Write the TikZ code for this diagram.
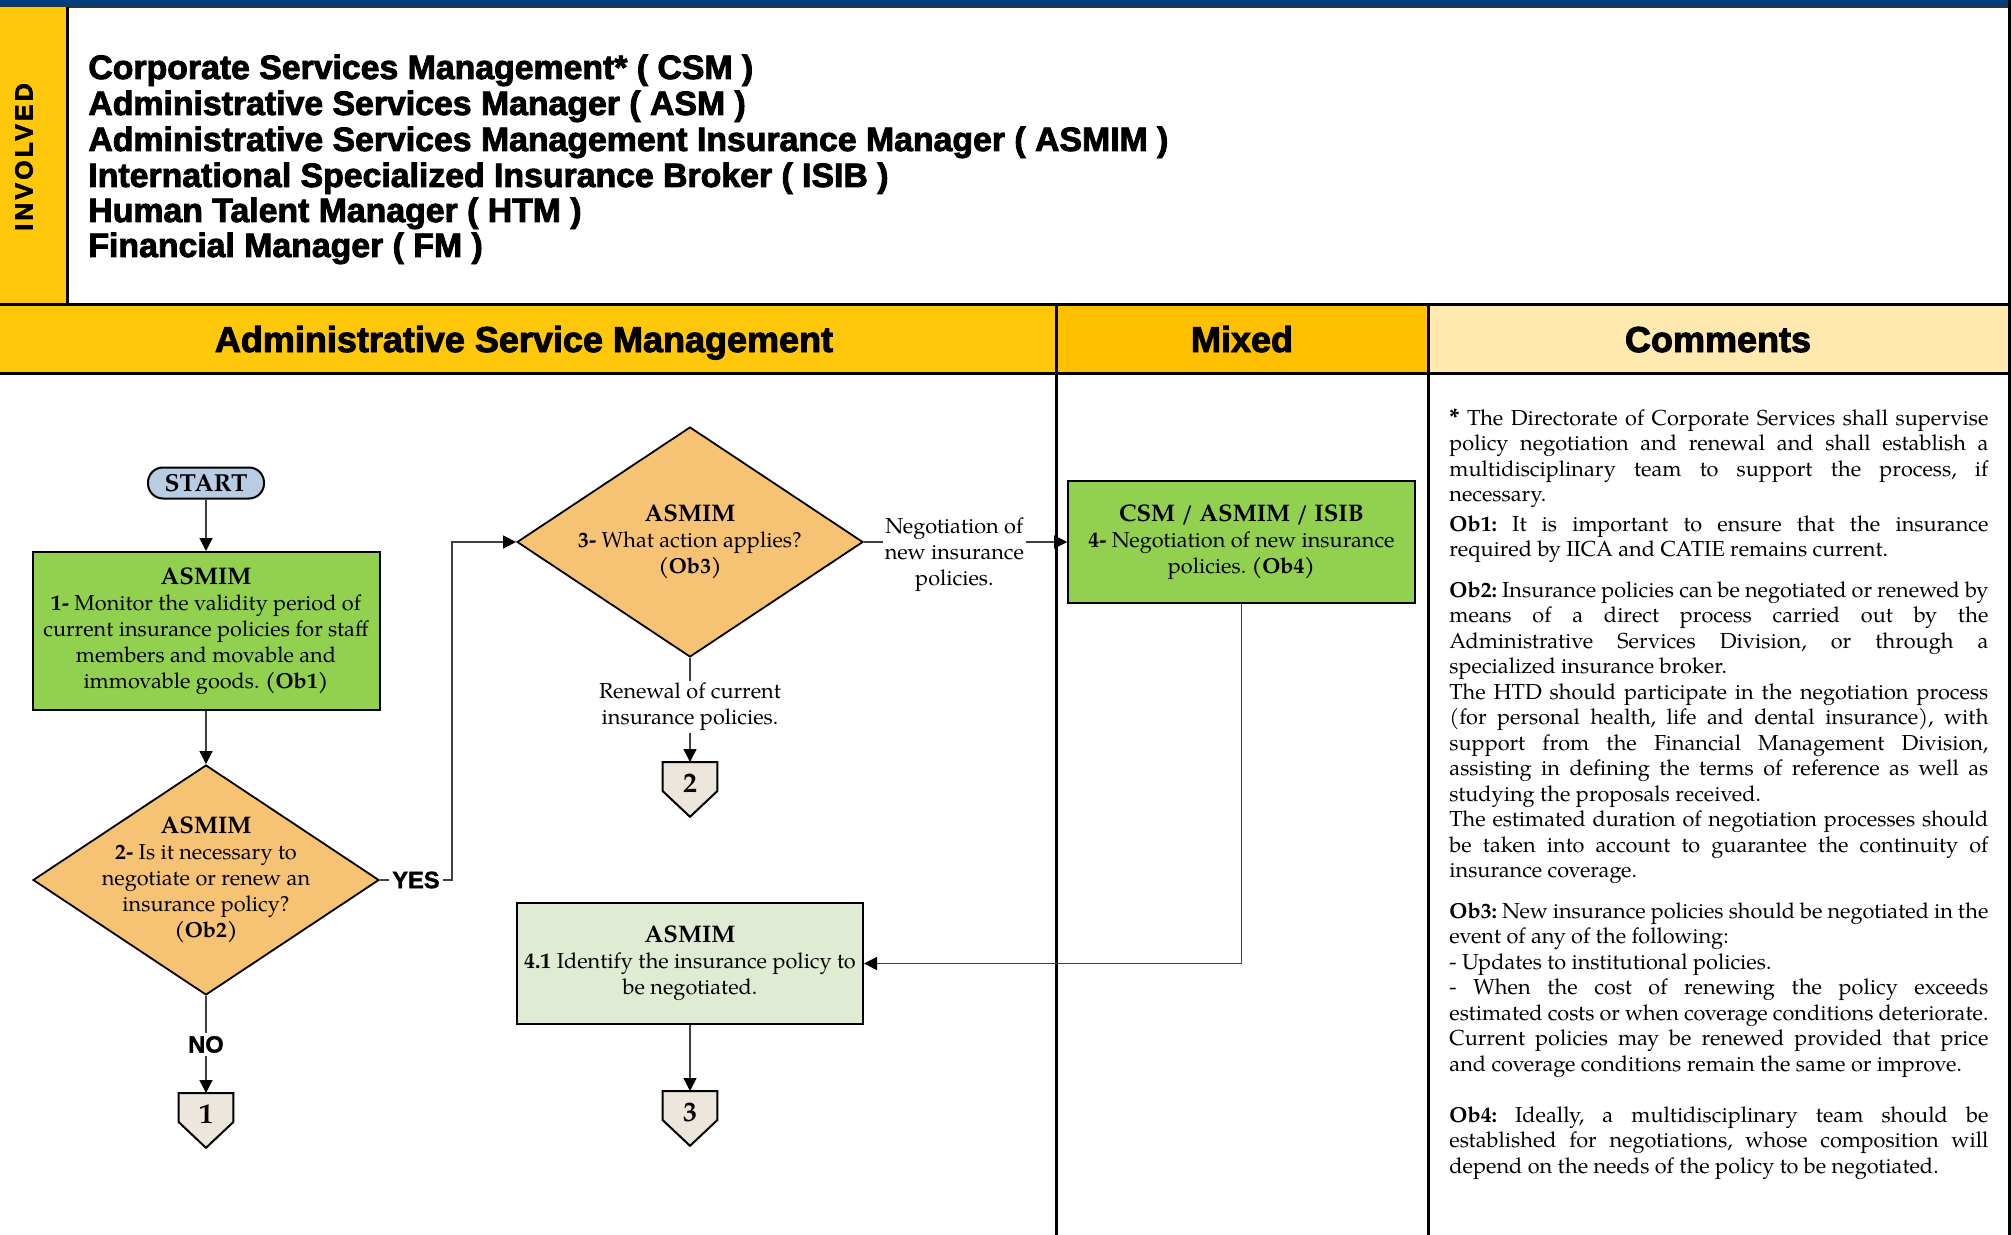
\documentclass[tikz,border=0pt]{standalone}
\usepackage{fontspec}
\setmainfont{texgyrepagella}[Extension=.otf,UprightFont=*-regular,BoldFont=*-bold,ItalicFont=*-italic,BoldItalicFont=*-bolditalic]
\newfontface\hsans[FakeBold=2.6]{Liberation Sans Bold}
\newfontface\ynsans[FakeBold=1.6]{Liberation Sans Bold}
\usetikzlibrary{shapes.geometric,arrows.meta,calc}

\definecolor{topblue}{HTML}{003E7E}
\definecolor{gold}{HTML}{FFC80A}
\definecolor{mixgold}{HTML}{FFC000}
\definecolor{comhead}{HTML}{FFE9AF}
\definecolor{taskgreen}{HTML}{92D050}
\definecolor{palegreen}{HTML}{E0EBD4}
\definecolor{decorange}{HTML}{F6C274}
\definecolor{startblue}{HTML}{B8CCE4}
\definecolor{connbeige}{HTML}{ECE6DC}

\newcommand\ftxt{\fontsize{10.85}{13}\selectfont}
\newcommand\fhead{\fontsize{12}{13}\selectfont\bfseries}
\newcommand\fcom{\fontsize{10.85}{12.75}\selectfont}

\begin{document}
\frenchspacing
\begin{tikzpicture}[x=0.5pt,y=-0.5pt,
  taskbox/.style={draw=black, line width=1pt, inner sep=0pt, fill=taskgreen},
  decision/.style={diamond, draw=black, line width=0.9pt, fill=decorange, inner sep=0pt,
    minimum width=173pt, minimum height=115pt},
  inbox/.style={font=\ftxt, align=center, inner sep=0pt},
  flow/.style={draw=black!75, line width=0.75pt, -{Triangle[length=6.5pt,width=6.5pt,color=black]}},
  lbl/.style={fill=white, inner sep=1pt, font=\ftxt, align=center},
  yn/.style={fill=white, inner sep=1.5pt, font=\ynsans\fontsize{11.8}{12}\selectfont},
  connbox/.style={minimum width=27pt, minimum height=27pt, inner sep=0pt, anchor=north},
  connshape/.style={draw=black, line width=1pt, fill=connbeige},
  connnum/.style={font=\fontsize{14}{15}\selectfont\bfseries, inner sep=0pt},
  rule/.style={line width=1.5pt, draw=black},
  comtext/.style={anchor=base west, text width=269.5pt, align=justify, font=\fcom, inner sep=0pt},
  colhead/.style={anchor=base, font=\hsans\fontsize{18}{20}\selectfont, inner sep=0pt}]

\useasboundingbox (0,0) rectangle (2011,1235);
\fill[white] (0,0) rectangle (2011,1235);

% top band and the roles area
\fill[topblue] (0,0) rectangle (2011,7);
\draw[line width=1pt, black!80] (0,7) -- (2011,7);
\fill[gold] (0,7) rectangle (67,305);
\draw[rule] (67,7) -- (67,305);
\node[rotate=90, inner sep=0pt, font=\hsans\fontsize{12.4}{13}\selectfont\addfontfeatures{LetterSpace=13}] (inv) at (24,157) {INVOLVED};

\foreach \t/\b [count=\i] in {Corporate Services Management* ( CSM )/79,
  Administrative Services Manager ( ASM )/115,
  Administrative Services Management Insurance Manager ( ASMIM )/151,
  International Specialized Insurance Broker ( ISIB )/187,
  Human Talent Manager ( HTM )/222,
  Financial Manager ( FM )/257}
  \node[anchor=base west, inner sep=0pt, font=\hsans\fontsize{16.9}{18}\selectfont] (role\i) at (88,\b) {\t};

% column headers
\fill[gold] (0,305) rectangle (1056,373);
\fill[mixgold] (1056,305) rectangle (1428,373);
\fill[comhead] (1428,305) rectangle (2009,373);
\draw[rule] (0,305) -- (2009,305);
\draw[rule] (0,373) -- (2009,373);
\draw[rule] (1056,305) -- (1056,1235);
\draw[rule] (1428,305) -- (1428,1235);
\draw[rule] (2009,0) -- (2009,1235);

\node[colhead] (hasm) at (524,352) {Administrative Service Management};
\node[colhead] (hmix) at (1242,352) {Mixed};
\node[colhead] (hcom) at (1718,352) {Comments};

% flowchart nodes
\node[draw=black, line width=1pt, fill=startblue, rounded corners=7.5pt,
  minimum width=58pt, minimum height=15.5pt, inner sep=0pt,
  font=\fontsize{12.3}{13}\selectfont\bfseries] (start) at (206,483) {START};

\node[taskbox, minimum width=173.5pt, minimum height=79pt] (b1) at (206,631) {};
\node[inbox] (b1t) at (206,631) {{\fhead ASMIM}\\\textbf{1-} Monitor the validity period of\\current insurance policies for staff\\members and movable and\\immovable goods. \textbf{(Ob1)}};

\node[decision] (d2) at (206,880) {};
\node[inbox] (d2t) at (206,880) {{\fhead ASMIM}\\\textbf{2-} Is it necessary to\\negotiate or renew an\\insurance policy?\\\textbf{(Ob2)}};

\node[decision] (d3) at (690,542) {};
\node[inbox] (d3t) at (690,542) {{\fhead ASMIM}\\\textbf{3-} What action applies?\\\textbf{(Ob3)}};

\node[taskbox, line width=0.8pt, minimum width=173.5pt, minimum height=61pt] (b4) at (1241.5,542) {};
\node[inbox] (b4t) at (1241.5,542) {{\fhead CSM / ASMIM / ISIB}\\\textbf{4-} Negotiation of new insurance\\policies. \textbf{(Ob4)}};

\node[taskbox, fill=palegreen, minimum width=173pt, minimum height=60.5pt] (b41) at (690,963.5) {};
\node[inbox] (b41t) at (690,963.5) {{\fhead ASMIM}\\\textbf{4.1} Identify the insurance policy to\\be negotiated.};

% off-page connectors
\node[connbox] (c1) at (206,1093) {};
\draw[connshape] (c1.north west) -- (c1.north east) -- ++(0,29) -- (c1.south) -- ($(c1.north west)+(0,29)$) -- cycle;
\node[connnum] (c1n) at ($(c1.north)+(0,21)$) {1};

\node[connbox] (c2) at (690,762) {};
\draw[connshape] (c2.north west) -- (c2.north east) -- ++(0,29) -- (c2.south) -- ($(c2.north west)+(0,29)$) -- cycle;
\node[connnum] (c2n) at ($(c2.north)+(0,21)$) {2};

\node[connbox] (c3) at (690,1091) {};
\draw[connshape] (c3.north west) -- (c3.north east) -- ++(0,29) -- (c3.south) -- ($(c3.north west)+(0,29)$) -- cycle;
\node[connnum] (c3n) at ($(c3.north)+(0,21)$) {3};

% connectors
\coordinate (yesbend) at (452,880);
\draw[flow] (start) -- (b1);
\draw[flow] (b1) -- (d2);
\draw[flow] (d2.east) -- node[yn] {YES} (yesbend) |- (d3.west);
\draw[flow] (d2.south) -- node[yn] {NO} (c1.north);
\draw[flow] (d3.east) -- node[lbl, pos=0.445, yshift=-6.5pt] {Negotiation of\\new insurance\\policies.} (b4.west);
\draw[flow] (d3.south) -- node[lbl, pos=0.47] {Renewal of current\\insurance policies.} (c2.north);
\draw[flow] (b4.south) |- (b41.east);
\draw[flow] (b41.south) -- (c3.north);

% comments column
\node[comtext] (com0) at (1449,425) {{\bfseries\large *} The Directorate of Corporate Services shall supervise\linebreak policy negotiation and renewal and shall establish a\linebreak multidisciplinary team to support the process, if\linebreak necessary.};
\node[comtext] (com1) at (1449,531) {\textbf{Ob1:} It is important to ensure that the insurance\linebreak required by IICA and CATIE remains current.};
\node[comtext] (com2) at (1449,597) {\textbf{Ob2:} Insurance policies can be negotiated or renewed by\linebreak means of a direct process carried out by the\linebreak Administrative Services Division, or through a\linebreak specialized insurance broker.\\The HTD should participate in the negotiation process\linebreak (for personal health, life and dental insurance), with\linebreak support from the Financial Management Division,\linebreak assisting in defining the terms of reference as well as\linebreak studying the proposals received.\\The estimated duration of negotiation processes should\linebreak be taken into account to guarantee the continuity of\linebreak insurance coverage.};
\node[comtext] (com3) at (1449,918) {\textbf{Ob3:} New insurance policies should be negotiated in the\linebreak event of any of the following:\\- Updates to institutional policies.\\- When the cost of renewing the policy exceeds\linebreak estimated costs or when coverage conditions deteriorate.\linebreak Current policies may be renewed provided that price\linebreak and coverage conditions remain the same or improve.};
\node[comtext] (com4) at (1449,1122) {\textbf{Ob4:} Ideally, a multidisciplinary team should be\linebreak established for negotiations, whose composition will\linebreak depend on the needs of the policy to be negotiated.};

\end{tikzpicture}
\end{document}
